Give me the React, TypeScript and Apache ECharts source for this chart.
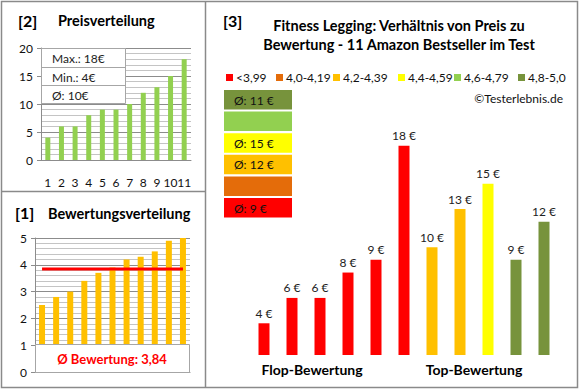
import React, { useEffect, useRef } from 'react';
import * as echarts from 'echarts';

const FONT = 'Lato, "Open Sans", sans-serif';

// ---- data ----
const productNumbers = ['1', '2', '3', '4', '5', '6', '7', '8', '9', '10', '11'];
const priceValues = [4, 6, 6, 8, 9, 9, 10, 12, 13, 15, 18];
const ratingValues = [2.5, 2.8, 3.0, 3.4, 3.7, 3.9, 4.2, 4.3, 4.5, 4.9, 5.0];
const avgRating = 3.84;
const comparePrices = [4, 6, 6, 8, 9, 18, 10, 13, 15, 9, 12];
const compareRatingClass = [0, 0, 0, 0, 0, 0, 2, 2, 3, 5, 5];
const ratingClassLabels = ['<3,99', '4,0-4,19', '4,2-4,39', '4,4-4,59', '4,6-4,79', '4,8-5,0'];
const classAveragePrice: (number | null)[] = [9, null, 12, 15, null, 11];
const priceYTicks = [0, 20, 5];
const ratingYTicks = [0, 5, 1];

// ---- styles ----
const classColors = ['#ff0000', '#e46c0a', '#ffc000', '#ffff00', '#92d050', '#77933c'];
const GRAY = '#8a8a8a';
const MAJOR = '#8c8c8c';
const MINOR = '#c4c4c4';

const maxPrice = Math.max(...priceValues);
const minPrice = Math.min(...priceValues);
const avgPrice = Math.round(priceValues.reduce((a, b) => a + b, 0) / priceValues.length);

function txt(text: string, x: number, y: number, font: string, fill = '#000', align = 'left') {
  return {
    type: 'text',
    z: 100,
    style: { text, x, y, font, fill, textAlign: align, textVerticalAlign: 'middle', verticalAlign: 'middle' },
  };
}

function valueAxis(gridIndex: number, ticks: number[]) {
  return {
    type: 'value',
    gridIndex,
    min: ticks[0],
    max: ticks[1],
    interval: ticks[2],
    axisLine: { show: true, lineStyle: { color: MAJOR } },
    axisTick: { show: true, length: 4, lineStyle: { color: MAJOR } },
    axisLabel: { color: '#111', fontFamily: FONT, fontSize: 12, margin: 8 },
    splitLine: { show: true, lineStyle: { color: MAJOR, width: 1 } },
    minorTick: { show: false, splitNumber: 5 },
    minorSplitLine: { show: true, lineStyle: { color: MINOR, width: 1 } },
  };
}

export default function App() {
  const ref = useRef<HTMLDivElement>(null);
  useEffect(() => {
    const chart = echarts.init(ref.current!, null, { renderer: 'svg' });

    const legendX = [226, 276, 333, 398, 454, 518];
    const graphics: any[] = [
      { type: 'rect', z: 0, shape: { x: 1.5, y: 1.5, width: 576, height: 386 }, style: { fill: 'none', stroke: GRAY, lineWidth: 1.5 } },
      { type: 'line', z: 0, shape: { x1: 205.5, y1: 1.5, x2: 205.5, y2: 387.5 }, style: { stroke: GRAY, lineWidth: 1.5 } },
      { type: 'line', z: 0, shape: { x1: 1.5, y1: 191.5, x2: 205.5, y2: 191.5 }, style: { stroke: GRAY, lineWidth: 1.5 } },
      // panel 2 titles
      txt('[2]', 18, 20, `bold 16px ${FONT}`),
      txt('Preisverteilung', 58, 20, `bold 14.5px ${FONT}`),
      // stats box
      { type: 'rect', z: 100, shape: { x: 41.5, y: 48.5, width: 84, height: 55 }, style: { fill: '#fff', stroke: '#a6a6a6', lineWidth: 1 } },
      { type: 'line', z: 100, shape: { x1: 41.5, y1: 67.5, x2: 125.5, y2: 67.5 }, style: { stroke: '#a6a6a6', lineWidth: 1 } },
      { type: 'line', z: 100, shape: { x1: 41.5, y1: 85.5, x2: 125.5, y2: 85.5 }, style: { stroke: '#a6a6a6', lineWidth: 1 } },
      txt(`Max.: ${maxPrice}€`, 52, 58, `12px ${FONT}`, '#222'),
      txt(`Min.: ${minPrice}€`, 52, 77, `12px ${FONT}`, '#222'),
      txt(`Ø: ${avgPrice}€`, 52, 95, `12px ${FONT}`, '#222'),
      // panel 1 titles
      txt('[1]', 15, 212, `bold 16px ${FONT}`),
      txt('Bewertungsverteilung', 48, 213, `bold 14.5px ${FONT}`),
      { type: 'rect', z: 100, shape: { x: 35.5, y: 344.5, width: 154, height: 28 }, style: { fill: '#fff', stroke: '#a6a6a6', lineWidth: 1 } },
      txt(`Ø Bewertung: ${avgRating.toFixed(2).replace('.', ',')}`, 112, 359, `bold 13px ${FONT}`, '#ff0000', 'center'),
      // panel 3
      txt('[3]', 223, 20, `bold 16px ${FONT}`),
      txt('Fitness Legging: Verhältnis von Preis zu', 399, 25, `bold 14.5px ${FONT}`, '#000', 'center'),
      txt('Bewertung - 11 Amazon Bestseller im Test', 399, 44, `bold 14.5px ${FONT}`, '#000', 'center'),
      txt('©Testerlebnis.de', 563, 98, `12px ${FONT}`, '#111', 'right'),
      txt('Flop-Bewertung', 312, 369, `bold 14px ${FONT}`, '#000', 'center'),
      txt('Top-Bewertung', 474, 369, `bold 14px ${FONT}`, '#000', 'center'),
    ];
    ratingClassLabels.forEach((label, i) => {
      graphics.push({ type: 'rect', z: 100, shape: { x: legendX[i], y: 74, width: 7, height: 7 }, style: { fill: classColors[i] } });
      graphics.push(txt(label, legendX[i] + 10, 77.5, `12px ${FONT}`, '#111'));
    });
    for (let k = 0; k < 6; k++) {
      const cls = 5 - k;
      const y = 90 + k * 21.6;
      graphics.push({ type: 'rect', z: 100, shape: { x: 224, y, width: 68, height: 19.5 }, style: { fill: classColors[cls] } });
      const avg = classAveragePrice[cls];
      if (avg !== null) graphics.push(txt(`Ø: ${avg} €`, 234, y + 10, `12px ${FONT}`, '#111'));
    }

    const option: any = {
      animation: false,
      backgroundColor: '#fff',
      grid: [
        { left: 41, top: 48, width: 150, height: 112 },
        { left: 35, top: 238, width: 155, height: 134 },
        { left: 250, top: 133, width: 308, height: 222 },
      ],
      xAxis: [
        {
          type: 'category', gridIndex: 0, data: productNumbers,
          axisLine: { lineStyle: { color: MAJOR } }, axisTick: { show: false },
          axisLabel: { interval: 0, color: '#111', fontFamily: FONT, fontSize: 12, margin: 16 },
        },
        {
          type: 'category', gridIndex: 1, data: productNumbers,
          axisLine: { lineStyle: { color: MAJOR } }, axisTick: { show: false }, axisLabel: { show: false },
        },
        {
          type: 'category', gridIndex: 2, data: productNumbers, show: false,
        },
      ],
      yAxis: [
        valueAxis(0, priceYTicks),
        valueAxis(1, ratingYTicks),
        { type: 'value', gridIndex: 2, min: 1.5, max: 19, show: false, splitLine: { show: false } },
      ],
      series: [
        {
          type: 'bar', xAxisIndex: 0, yAxisIndex: 0, data: priceValues, barWidth: 5,
          itemStyle: { color: '#92d050' },
        },
        {
          type: 'bar', xAxisIndex: 1, yAxisIndex: 1, data: ratingValues, barWidth: 6,
          itemStyle: { color: '#ffc000' },
        },
        {
          type: 'line', xAxisIndex: 1, yAxisIndex: 1, data: ratingValues.map(() => avgRating),
          symbol: 'none', lineStyle: { color: '#ff0000', width: 3 }, z: 5,
        },
        {
          type: 'bar', xAxisIndex: 2, yAxisIndex: 2, barWidth: 11,
          data: comparePrices.map((v, i) => ({ value: v, itemStyle: { color: classColors[compareRatingClass[i]] } })),
          label: {
            show: true, position: 'top', distance: 4, formatter: '{c} €',
            fontFamily: FONT, fontSize: 12, color: '#222',
          },
        },
      ],
      graphic: graphics,
    };
    chart.setOption(option);
    return () => chart.dispose();
  }, []);
  return <div ref={ref} style={{ position: 'fixed', left: 0, top: 0, width: 580, height: 390, background: '#fff' }} />;
}
